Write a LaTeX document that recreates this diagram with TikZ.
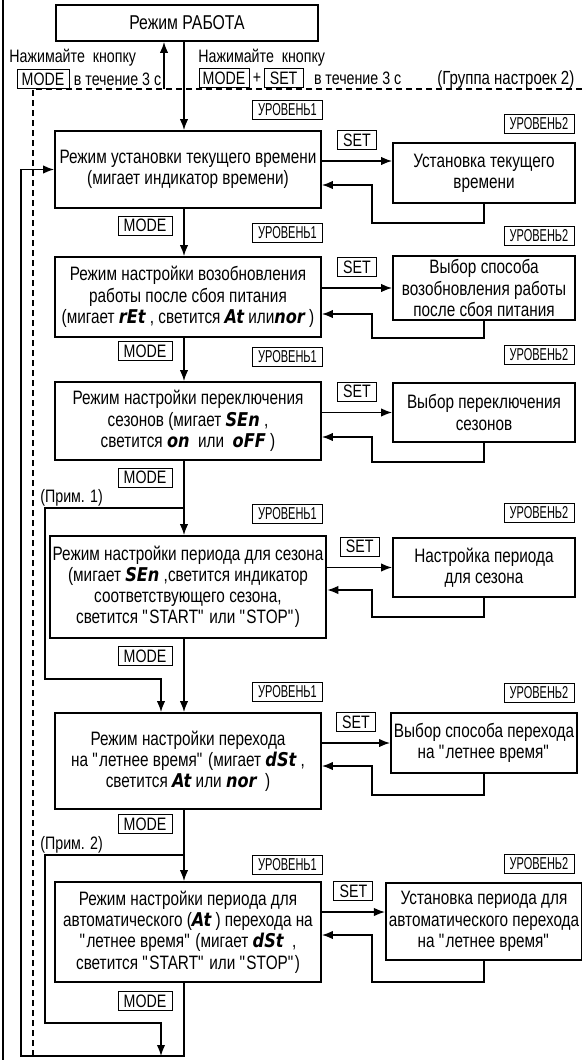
\documentclass[tikz,border=0pt]{standalone}
\usepackage{fontspec}
\setmainfont[FakeStretch=0.79]{Liberation Sans}
\newfontfamily\levelfont[FakeStretch=0.64]{Liberation Sans}
\newfontfamily\segfont[FakeStretch=0.85]{DejaVu Sans}
\usetikzlibrary{arrows.meta,positioning}
\newcommand{\seg}[1]{{\segfont\bfseries\itshape\fontsize{9.5}{9.5}\selectfont #1}}
\newcommand{\qt}[1]{\textquotedbl#1\textquotedbl}

\begin{document}
\begin{tikzpicture}[x=0.5pt, y=-0.5pt, >={Latex[length=5.5pt,width=4.2pt]}]
  \tikzstyle{modebox} = [draw, line width=0.9pt, rectangle, minimum width=133pt, inner sep=1.5pt, align=center, font={\fontsize{9.7}{10.6}\selectfont}]
  \tikzstyle{subbox} = [modebox, minimum width=91pt]
  \tikzstyle{keybox} = [draw, line width=0.5pt, minimum height=9.5pt, minimum width=27pt, inner sep=1pt, font={\fontsize{9}{9}\selectfont}]
  \tikzstyle{setbox} = [keybox, minimum width=19.5pt]
  \tikzstyle{levelbox} = [keybox, minimum width=35pt, font={\levelfont\fontsize{8.6}{9}\selectfont}]
  \tikzstyle{note} = [inner sep=0pt, anchor=west, font={\fontsize{9}{10}\selectfont}]
  \tikzstyle{flow} = [line width=0.7pt]
  \tikzstyle{groupline} = [line width=0.6pt, dash pattern=on 3pt off 2pt]

  \useasboundingbox (0,0) rectangle (582,1060);

  % frame and border of group 2
  \draw[flow] (3,0) -- (3,1060);
  \coordinate (grp) at (33,89);
  \draw[groupline] (582,89) -- (grp) -- (33,1060);

  \node[modebox, minimum width=131pt, minimum height=18pt, font={\fontsize{10}{11}\selectfont}] (work) at (187,23) {Режим РАБОТА};

  % key hints
  \node[note] (hintl) at (9,58) {Нажимайте\ \ кнопку};
  \node[keybox, minimum width=26pt] (keyl) at (43,79) {MODE};
  \node[note] (hintl2) [right=2pt of keyl] {в течение 3 с};
  \node[note] (hintr) at (198,58) {Нажимайте\ \ кнопку};
  \node[keybox, minimum width=25pt] (keyr) at (224,78) {MODE};
  \node[inner sep=0pt, font={\fontsize{9}{10}\selectfont}] (plus) [right=1.5pt of keyr] {+};
  \node[setbox] (setr) [right=1pt of plus] {SET};
  \node[note] (hintr2) [right=5pt of setr] {в течение 3 с};
  \node[note, font={\fontsize{9.5}{10}\selectfont}] (group) at (437,80) {(Группа настроек 2)};

  % level 1
  \node[modebox, minimum height=38.5pt] (m1) at (188,169.5) {Режим установки текущего времени\\(мигает индикатор времени)};
  \node[modebox, minimum height=40pt] (m2) at (188,297) {Режим настройки возобновления\\работы после сбоя питания\\(мигает \seg{rEt} , светится \seg{At} или\seg{nor} )};
  \node[modebox, minimum height=39pt] (m3) at (188,421) {Режим настройки переключения\\сезонов (мигает \seg{SEn} ,\\светится \seg{on} \ или \ \seg{oFF} )};
  \node[modebox, minimum height=51pt] (m4) at (188,587) {Режим настройки периода для сезона\\(мигает \seg{SEn} ,светится индикатор\\соответствующего сезона,\\светится \qt{START} или \qt{STOP})};
  \node[modebox, minimum height=48pt] (m5) at (188,761) {Режим настройки перехода\\на \qt{летнее время} (мигает \seg{dSt} ,\\светится \seg{At} или \seg{nor} \ )};
  \node[modebox, minimum height=50pt] (m6) at (188,932) {Режим настройки периода для\\автоматического (\seg{At} ) перехода на\\\qt{летнее время} (мигает \seg{dSt} \ ,\\светится \qt{START} или \qt{STOP})};

  % level 2
  \node[subbox, minimum height=30pt] (s1) at (484,173) {Установка текущего\\времени};
  \node[subbox, minimum height=32pt] (s2) at (484,288) {Выбор способа\\возобновления работы\\после сбоя питания};
  \node[subbox, minimum height=29.5pt] (s3) at (484,412.5) {Выбор переключения\\сезонов};
  \node[subbox, minimum height=29.5pt] (s4) at (484,567.5) {Настройка периода\\для сезона};
  \node[subbox, minimum height=30pt] (s5) at (484,743) {Выбор способа перехода\\на \qt{летнее время}};
  \node[subbox, minimum height=38.5pt] (s6) at (484,921.5) {Установка периода для\\автоматического перехода\\на \qt{летнее время}};

  % level tags
  \node[levelbox] (lv1a) at (287.5,110) {УРОВЕНЬ1};
  \node[levelbox] (lv2a) at (539,124) {УРОВЕНЬ2};
  \node[levelbox] (lv1b) at (287.5,232.5) {УРОВЕНЬ1};
  \node[levelbox] (lv2b) at (539,236) {УРОВЕНЬ2};
  \node[levelbox] (lv1c) at (287.5,356.5) {УРОВЕНЬ1};
  \node[levelbox] (lv2c) at (539,355) {УРОВЕНЬ2};
  \node[levelbox] (lv1d) at (287.5,513.5) {УРОВЕНЬ1};
  \node[levelbox] (lv2d) at (539,513) {УРОВЕНЬ2};
  \node[levelbox] (lv1e) at (287.5,692) {УРОВЕНЬ1};
  \node[levelbox] (lv2e) at (539,692.5) {УРОВЕНЬ2};
  \node[levelbox] (lv1f) at (287.5,865) {УРОВЕНЬ1};
  \node[levelbox] (lv2f) at (539,864) {УРОВЕНЬ2};

  % MODE tags
  \node[keybox] (k1) at (145,225.5) {MODE};
  \node[keybox] (k2) at (145,351) {MODE};
  \node[keybox] (k3) at (145,477.5) {MODE};
  \node[keybox] (k4) at (145,656) {MODE};
  \node[keybox] (k5) at (145,824) {MODE};
  \node[keybox] (k6) at (145,1001) {MODE};

  \node[note] (note1) at (40,498) {(Прим. 1)};
  \node[note] (note2) at (40,845) {(Прим. 2)};

  \coordinate (spine) at (184,0);
  \coordinate (side) at (161,0);
  \coordinate (exit) at (164,89);
  \coordinate (tap1) at (184,508);
  \coordinate (skip1) at (45,679);
  \coordinate (tap2) at (184,855);
  \coordinate (skip2) at (45,1023);
  \coordinate (loop) at (21,1056);
  \coordinate (in1) at ([yshift=6pt]s1.west);
  \coordinate (in6) at ([yshift=4.75pt]s6.west);

  \path[flow, ->]
  (work.south -| spine) edge (m1.north -| spine)
  (m1.south -| spine) edge (m2.north -| spine)
  (m2.south -| spine) edge (m3.north -| spine)
  (m3.south -| spine) edge (m4.north -| spine)
  (m4.south -| spine) edge (m5.north -| spine)
  (m5.south -| spine) edge (m6.north -| spine);

  \draw[flow, ->] (exit) -- (exit |- work.south);
  \draw[flow, ->] (tap1) -| (skip1) -| (m5.north -| side);
  \draw[flow, ->] (tap2) -| (skip2) -| (loop -| side);
  \draw[flow, ->] (m6.south -| spine) |- (loop) |- (m1.west);

  \path[flow, ->]
  (in1 -| m1.east) edge node[setbox, above=5.5pt] {SET} (in1)
  (s2.west -| m2.east) edge node[setbox, above=5.5pt] {SET} (s2.west)
  (s3.west -| m3.east) edge node[setbox, above=5.5pt] {SET} (s3.west)
  (s4.west -| m4.east) edge node[setbox, above=5.5pt] {SET} (s4.west)
  (s5.west -| m5.east) edge node[setbox, above=5.5pt] {SET} (s5.west)
  (in6 -| m6.east) edge node[setbox, above=5.5pt] {SET} (in6);

  % back from level 2
  \coordinate (back1) at (372,223); \coordinate (ent1) at (372,185);
  \coordinate (back2) at (372,338); \coordinate (ent2) at (372,314);
  \coordinate (back3) at (372,462); \coordinate (ent3) at (372,437);
  \coordinate (back4) at (372,617); \coordinate (ent4) at (372,590);
  \coordinate (back5) at (372,795); \coordinate (ent5) at (372,766);
  \coordinate (back6) at (372,982); \coordinate (ent6) at (372,935);
  \draw[flow, ->] (s1.south) |- (back1) -- (ent1) -- (ent1 -| m1.east);
  \draw[flow, ->] (s2.south) |- (back2) -- (ent2) -- (ent2 -| m2.east);
  \draw[flow, ->] (s3.south) |- (back3) -- (ent3) -- (ent3 -| m3.east);
  \draw[flow, ->] (s4.south) |- (back4) -- (ent4) -- (ent4 -| m4.east);
  \draw[flow, ->] (s5.south) |- (back5) -- (ent5) -- (ent5 -| m5.east);
  \draw[flow, ->] (s6.south) |- (back6) -- (ent6) -- (ent6 -| m6.east);
\end{tikzpicture}
\end{document}
